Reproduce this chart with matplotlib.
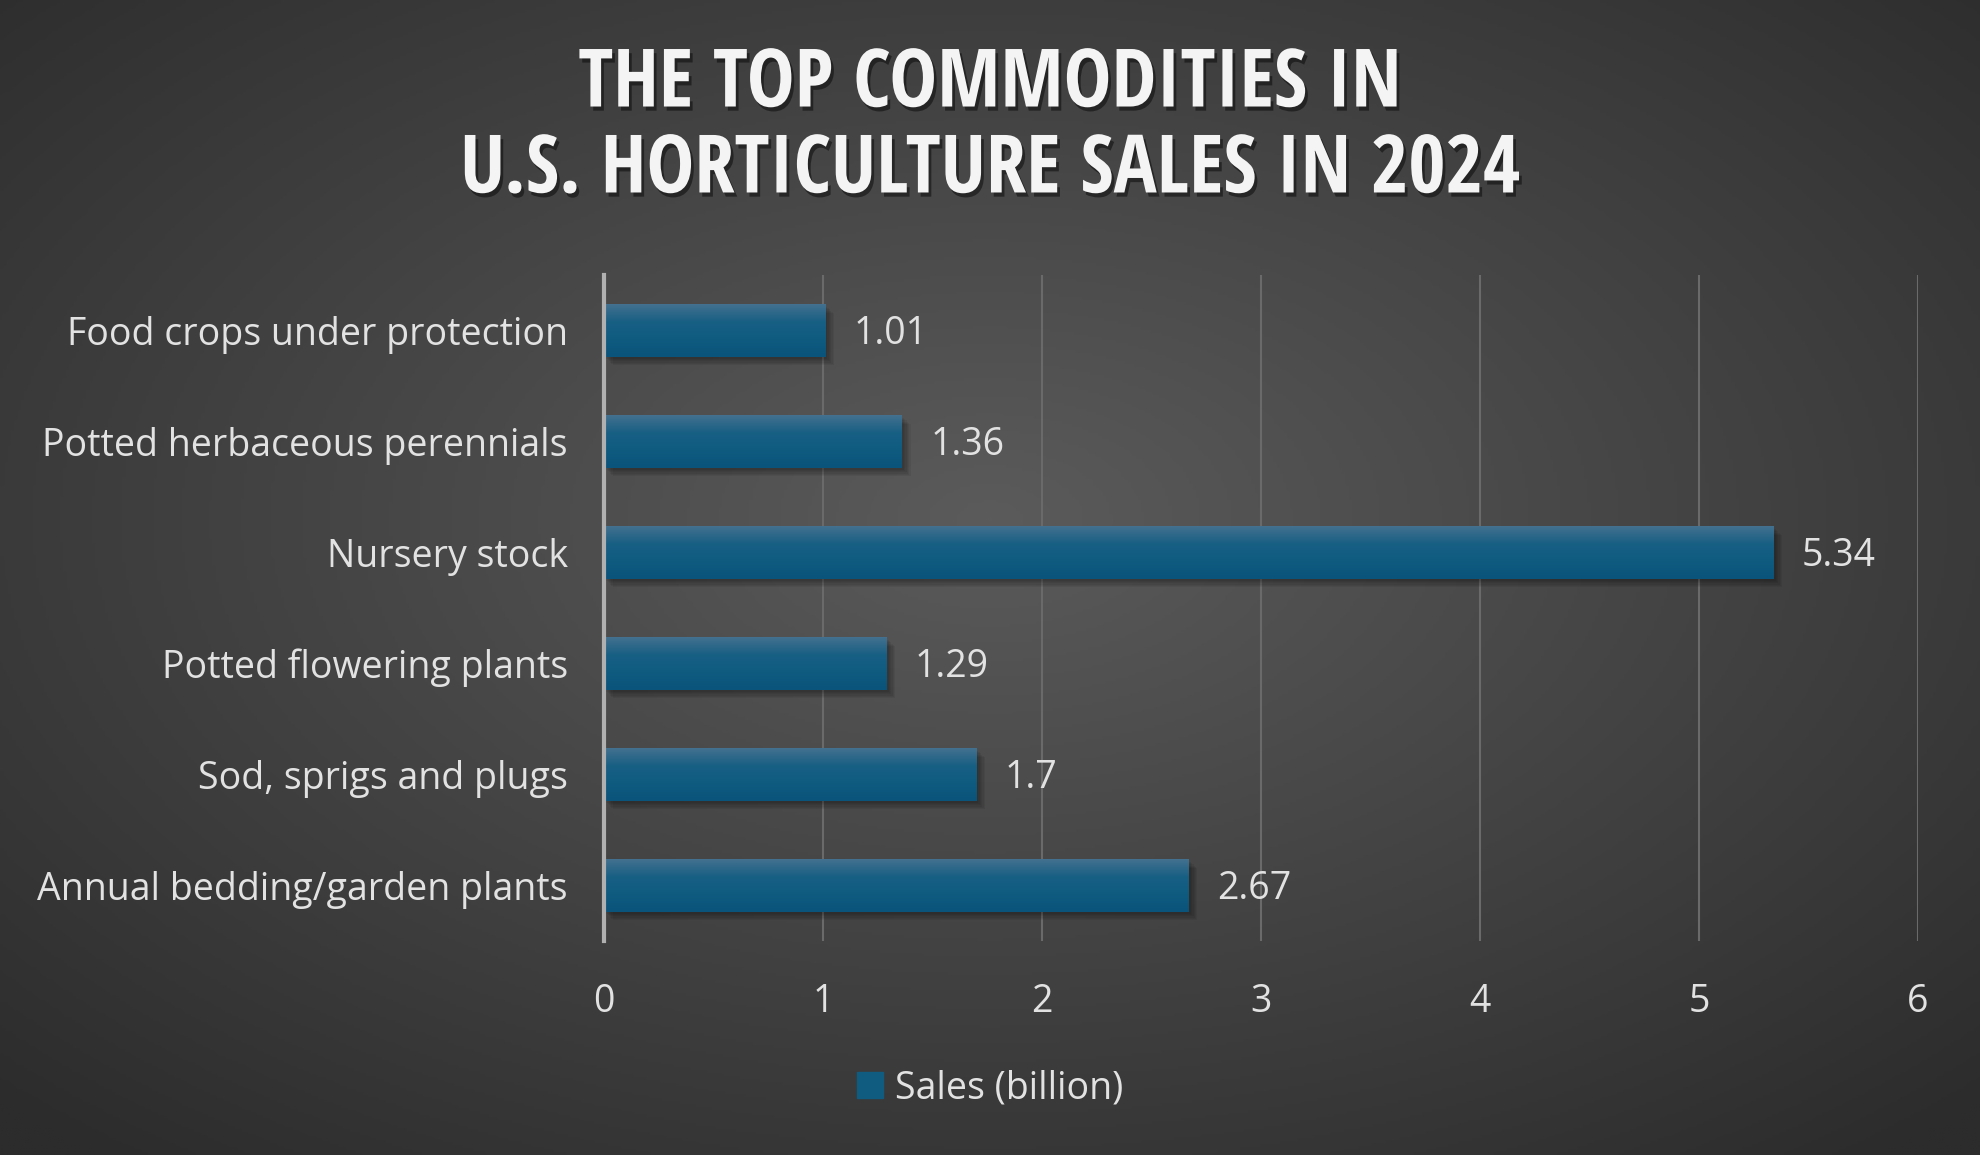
import numpy as np
import matplotlib.pyplot as plt
import matplotlib.patheffects as pe
from matplotlib.colors import LinearSegmentedColormap
from matplotlib.patches import Rectangle

categories = ["Annual bedding/garden plants", "Sod, sprigs and plugs",
              "Potted flowering plants", "Nursery stock",
              "Potted herbaceous perennials", "Food crops under protection"]
sales = [2.67, 1.7, 1.29, 5.34, 1.36, 1.01]
x_ticks = [0, 1, 2, 3, 4, 5, 6]
series_name = "Sales (billion)"
title = "THE TOP COMMODITIES IN\nU.S. HORTICULTURE SALES IN 2024"

text_col = "#e2e2e2"
bar_col = "#105b80"
font = "Open Sans"
fs = 27

fig = plt.figure(figsize=(19.8, 11.55), dpi=100)

# radial background
bg = fig.add_axes([0, 0, 1, 1], zorder=-10)
yy, xx = np.mgrid[0:1:400j, 0:1:600j]
r = np.sqrt(((xx - 0.5) / 0.75) ** 2 + ((yy - 0.45) / 0.75) ** 2)
bg_cmap = LinearSegmentedColormap.from_list("bg", ["#5b5b5b", "#2c2c2c"])
bg.imshow(r, cmap=bg_cmap, vmin=0, vmax=0.95, aspect="auto", extent=[0, 1, 0, 1])
bg.axis("off")

ax = fig.add_axes([604 / 1980, 1 - 941 / 1155, (1918 - 604) / 1980, (941 - 275) / 1155])
ax.patch.set_alpha(0)

y = np.arange(len(categories))
bars = ax.barh(y, sales, height=0.47, color=bar_col, zorder=3)

bar_cmap = LinearSegmentedColormap.from_list("bar", ["#0a537a", "#0f5b80", "#185f84", "#43718f"])
grad = np.linspace(0, 1, 100).reshape(-1, 1)
for b, v in zip(bars, sales):
    x0, y0, w, h = b.get_x(), b.get_y(), b.get_width(), b.get_height()
    # soft shadow
    for k in range(6):
        ax.add_patch(Rectangle((x0 + 0.01 + k * 0.006, y0 - 0.02 - k * 0.012), w, h,
                               color="black", alpha=0.06, lw=0, zorder=2))
    im = ax.imshow(grad, cmap=bar_cmap, aspect="auto", origin="lower",
                   extent=[x0, x0 + w, y0, y0 + h], zorder=4)
    im.set_clip_path(b)
    ax.text(x0 + w + 0.13, y0 + h / 2 - 0.03, f"{v:g}", va="center", ha="left",
            color=text_col, fontsize=fs, family=font, zorder=5)

ax.set_xlim(0, 6)
ax.set_ylim(-0.5, len(categories) - 0.5)
ax.set_xticks(x_ticks)
ax.set_xticklabels([str(t) for t in x_ticks])
ax.set_yticks(y)
ax.set_yticklabels(categories)
ax.tick_params(axis="both", length=0, colors=text_col, labelsize=fs)
ax.tick_params(axis="x", pad=30)
ax.tick_params(axis="y", pad=26)
for lab in ax.get_xticklabels() + ax.get_yticklabels():
    lab.set_family(font)
ax.grid(axis="x", color="#6a6a6a", lw=1.5, zorder=0)
ax.set_axisbelow(True)
for s in ["top", "right", "bottom"]:
    ax.spines[s].set_visible(False)
ax.spines["left"].set_color("#b0b0b0")
ax.spines["left"].set_linewidth(3)
ax.spines["left"].set_zorder(6)

fig.text(0.5, 1 - 128 / 1155, title, ha="center", va="center", color="#f4f4f4",
         fontsize=58, fontweight="bold", family=["Open Sans Condensed", "DejaVu Sans"],
         linespacing=1.08,
         path_effects=[pe.withSimplePatchShadow(offset=(2, -3), shadow_rgbFace="black", alpha=0.45)])

leg = fig.legend([Rectangle((0, 0), 1, 1, color=bar_col)], [series_name],
                 loc="center", bbox_to_anchor=(0.5, 1 - 1088 / 1155), frameon=False,
                 prop={"family": font, "size": fs}, handlelength=0.7, handleheight=0.7,
                 handletextpad=0.3)
for t in leg.get_texts():
    t.set_color(text_col)

fig.savefig("out.png", dpi=100)
